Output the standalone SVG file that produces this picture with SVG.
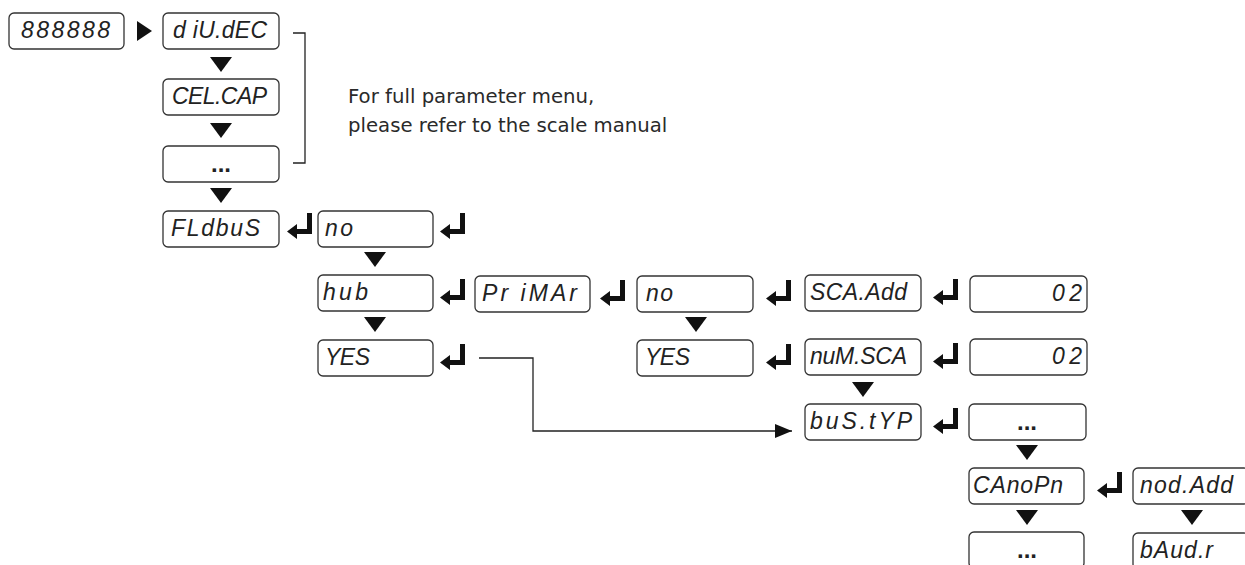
<svg xmlns="http://www.w3.org/2000/svg" xmlns:xlink="http://www.w3.org/1999/xlink" width="1245" height="565" viewBox="0 0 1245 565">
<style>
.box{fill:#fff;stroke:#333;stroke-width:1.3}
.seg{font-family:"Liberation Sans","DejaVu Sans",sans-serif;font-style:italic;font-size:23px;fill:#222}
.dots{font-family:"Liberation Sans",sans-serif;font-weight:bold;font-size:24px;fill:#222;text-anchor:middle}
.note{font-family:"DejaVu Sans",sans-serif;font-size:19.7px;fill:#2a2a2a}
.line{fill:none;stroke:#222;stroke-width:1.3}
.fill{fill:#111}
</style>
<defs>
<path id="ret" class="fill" d="M0,18.5 L10,11 L10,16 L20,16 L20,0 L25,0 L25,21 L10,21 L10,26 Z"/>
<path id="down" class="fill" d="M-11,0 L11,0 L0,15 Z"/>
<marker id="ah" markerUnits="userSpaceOnUse" markerWidth="18" markerHeight="14" refX="17" refY="7" orient="auto">
<path d="M0,0 L17,7 L0,14 Z" fill="#111"/>
</marker>
</defs>
<rect width="1245" height="565" fill="#fff"/>

<g id="n-888888"><rect class="box" x="9" y="13" width="115" height="36" rx="5"/><text class="seg" x="21" y="38" textLength="89" lengthAdjust="spacing">888888</text></g>
<g id="n-divdec"><rect class="box" x="163" y="13" width="116" height="36" rx="5"/><text class="seg" x="173" y="38" textLength="94" lengthAdjust="spacing">d iU.dEC</text></g>
<g id="n-celcap"><rect class="box" x="163" y="79" width="116" height="36" rx="5"/><text class="seg" x="172" y="104" textLength="95" lengthAdjust="spacing">CEL.CAP</text></g>
<g id="n-more1"><rect class="box" x="163" y="146" width="116" height="36" rx="5"/><text class="dots" x="221" y="172">...</text></g>
<g id="n-fldbus"><rect class="box" x="163" y="211" width="116" height="36" rx="5"/><text class="seg" x="171" y="236" textLength="89" lengthAdjust="spacing">FLdbuS</text></g>
<g id="n-no1"><rect class="box" x="318" y="211" width="115" height="36" rx="5"/><text class="seg" x="325" y="236" textLength="28" lengthAdjust="spacing">no</text></g>
<g id="n-hub"><rect class="box" x="318" y="275" width="115" height="36" rx="5"/><text class="seg" x="323" y="300" textLength="45" lengthAdjust="spacing">hub</text></g>
<g id="n-yes1"><rect class="box" x="318" y="340" width="115" height="36" rx="5"/><text class="seg" x="325" y="365" textLength="45" lengthAdjust="spacing">YES</text></g>
<g id="n-primar"><rect class="box" x="475" y="276" width="115" height="36" rx="5"/><text class="seg" x="482" y="301" textLength="95" lengthAdjust="spacing">Pr iMAr</text></g>
<g id="n-no2"><rect class="box" x="637" y="276" width="116" height="36" rx="5"/><text class="seg" x="646" y="301" textLength="27" lengthAdjust="spacing">no</text></g>
<g id="n-yes2"><rect class="box" x="637" y="340" width="116" height="36" rx="5"/><text class="seg" x="645" y="365" textLength="45" lengthAdjust="spacing">YES</text></g>
<g id="n-scaadd"><rect class="box" x="805" y="275" width="116" height="36" rx="5"/><text class="seg" x="810" y="300" textLength="97" lengthAdjust="spacing">SCA.Add</text></g>
<g id="n-val1"><rect class="box" x="970" y="276" width="117" height="36" rx="5"/><text class="seg" x="1082" y="301" text-anchor="end" textLength="30" lengthAdjust="spacing">02</text></g>
<g id="n-numsca"><rect class="box" x="805" y="339" width="116" height="36" rx="5"/><text class="seg" x="810" y="364" textLength="97" lengthAdjust="spacing">nuM.SCA</text></g>
<g id="n-val2"><rect class="box" x="970" y="339" width="117" height="36" rx="5"/><text class="seg" x="1082" y="364" text-anchor="end" textLength="30" lengthAdjust="spacing">02</text></g>
<g id="n-bustyp"><rect class="box" x="805" y="404" width="116" height="36" rx="5"/><text class="seg" x="810" y="429" textLength="102" lengthAdjust="spacing">buS.tYP</text></g>
<g id="n-more2"><rect class="box" x="969" y="404" width="117" height="36" rx="5"/><text class="dots" x="1027" y="430">...</text></g>
<g id="n-canopn"><rect class="box" x="969" y="468" width="115" height="36" rx="5"/><text class="seg" x="973" y="493" textLength="90" lengthAdjust="spacing">CAnoPn</text></g>
<g id="n-nodadd"><rect class="box" x="1133" y="468" width="116" height="36" rx="5"/><text class="seg" x="1140" y="493" textLength="93" lengthAdjust="spacing">nod.Add</text></g>
<g id="n-more3"><rect class="box" x="969" y="532" width="115" height="36" rx="5"/><text class="dots" x="1027" y="558">...</text></g>
<g id="n-baudr"><rect class="box" x="1133" y="533" width="116" height="36" rx="5"/><text class="seg" x="1140" y="558" textLength="73" lengthAdjust="spacing">bAud.r</text></g>

<g id="note">
<text class="note" x="348" y="103">For full parameter menu,</text>
<text class="note" x="348" y="132">please refer to the scale manual</text>
</g>

<g id="connectors">
<path class="fill" d="M137,21 L152,31 L137,41 Z"/>
<path class="line" d="M293,33 H305 V163 H293"/>
<use xlink:href="#down" x="221" y="57"/>
<use xlink:href="#down" x="221" y="123"/>
<use xlink:href="#down" x="221" y="188"/>
<use xlink:href="#down" x="375" y="252"/>
<use xlink:href="#down" x="375" y="317"/>
<use xlink:href="#down" x="696" y="317"/>
<use xlink:href="#down" x="863" y="382"/>
<use xlink:href="#down" x="1027" y="445"/>
<use xlink:href="#down" x="1027" y="510"/>
<use xlink:href="#down" x="1192" y="510"/>
<use xlink:href="#ret" x="287" y="213"/>
<use xlink:href="#ret" x="440" y="213"/>
<use xlink:href="#ret" x="440" y="279"/>
<use xlink:href="#ret" x="600" y="280"/>
<use xlink:href="#ret" x="766" y="280"/>
<use xlink:href="#ret" x="933" y="279"/>
<use xlink:href="#ret" x="440" y="344"/>
<use xlink:href="#ret" x="766" y="344"/>
<use xlink:href="#ret" x="933" y="343"/>
<use xlink:href="#ret" x="933" y="408"/>
<use xlink:href="#ret" x="1097" y="472"/>
<path class="line" d="M479,358 H533 V431 H792" marker-end="url(#ah)"/>
</g>
</svg>
